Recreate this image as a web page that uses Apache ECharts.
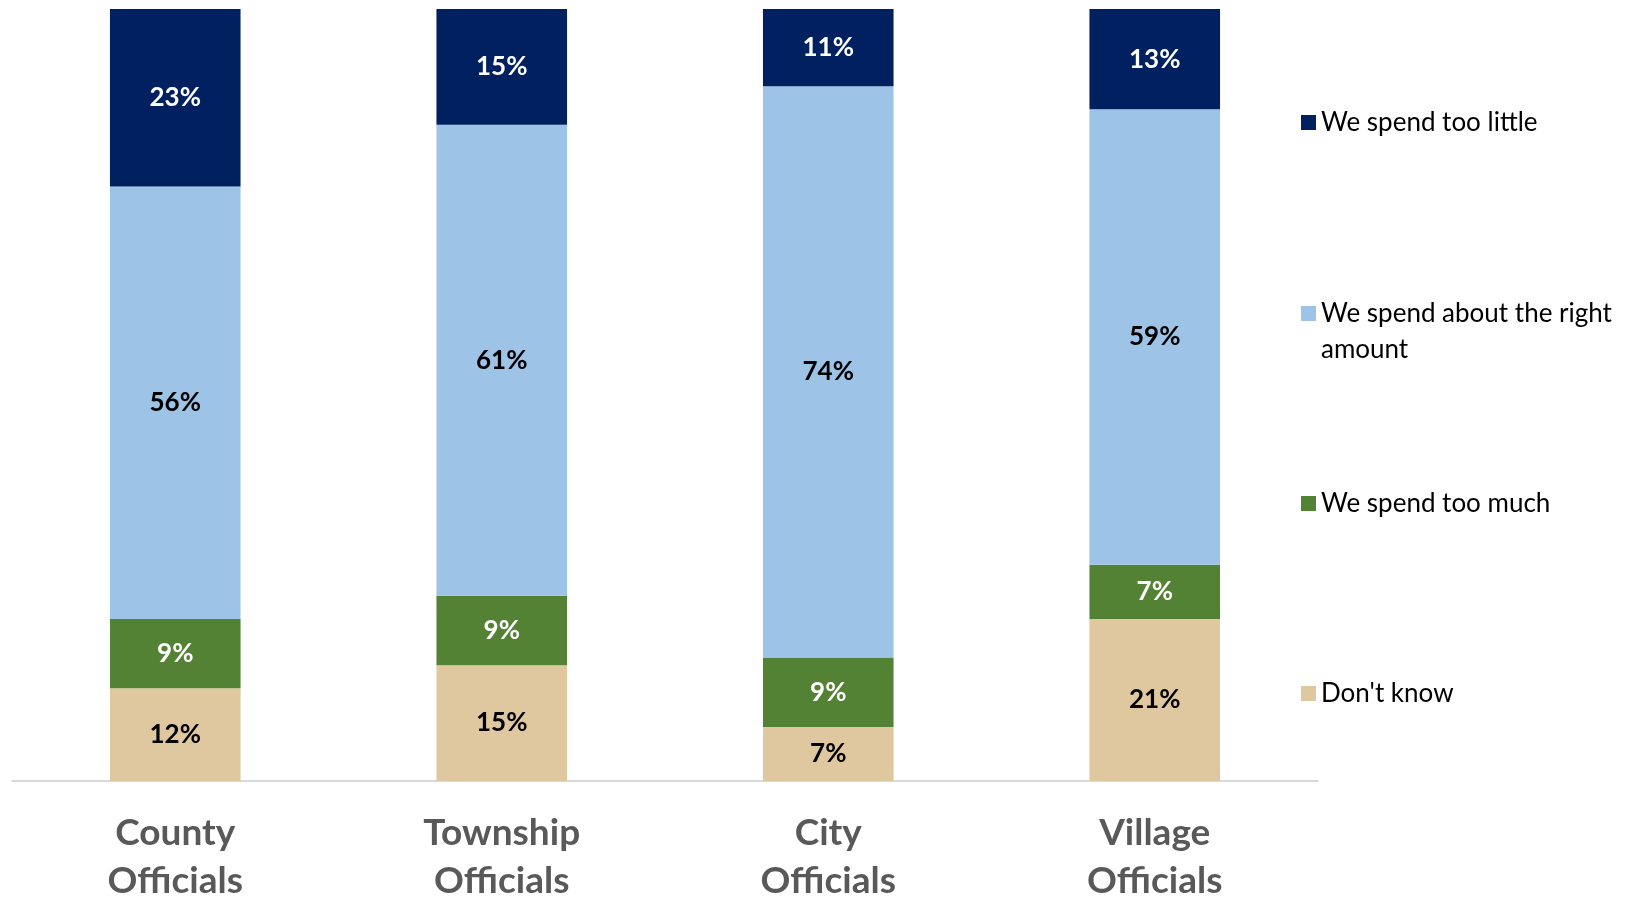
<!DOCTYPE html>
<html>
<head>
<meta charset="utf-8">
<script src="https://cdn.jsdelivr.net/npm/echarts@6/dist/echarts.min.js"></script>
<style>
  html, body { margin: 0; padding: 0; background: #fff; }
  #chart { width: 1633px; height: 897px; }
</style>
</head>
<body>
<div id="chart"></div>
<script>
const categories = ['County\nOfficials', 'Township\nOfficials', 'City\nOfficials', 'Village\nOfficials']

const dontKnow = [12, 15, 7, 21]
const tooMuch = [9, 9, 9, 7]
const rightAmount = [56, 61, 74, 59]
const tooLittle = [23, 15, 11, 13]

const names = ["We spend too little", "We spend about the right amount", "We spend too much", "Don't know"]
const colors = ['#002060', '#9DC3E6', '#548235', '#DFC7A0']

const font = 'Lato, "Open Sans", sans-serif'

const chart = echarts.init(document.getElementById('chart'))

const makeSeries = (name, data, color, labelColor) => ({
    name: name,
    type: 'bar',
    stack: 'total',
    barWidth: '40%',
    data: data,
    itemStyle: { color: color },
    label: {
        show: true,
        position: 'inside',
        formatter: '{c}%',
        color: labelColor,
        fontFamily: font,
        fontWeight: 'bold',
        fontSize: 26
    }
})

// the long legend entry wraps; its second line is added as a graphic below
const legendTops = [105, 296, 486, 676]
const legends = names.map((n, i) => ({
    data: [n],
    left: 1301,
    top: legendTops[i],
    padding: 0,
    itemWidth: 15,
    itemHeight: 15,
    itemGap: 8,
    icon: 'rect',
    selectedMode: false,
    formatter: i === 1 ? 'We spend about the right' : '{name}',
    textStyle: {
        fontFamily: font,
        fontSize: 26,
        color: '#000',
        lineHeight: 35
    }
}))

const option = {
    animation: false,
    color: colors,
    legend: legends,
    graphic: [{
        type: 'text',
        left: 1321,
        top: 337,
        style: {
            text: 'amount',
            fontFamily: font,
            fontSize: 26,
            fill: '#000'
        }
    }],
    grid: {
        left: 12,
        right: 315,
        top: 9,
        bottom: 116,
        outerBoundsMode: 'none'
    },
    xAxis: {
        type: 'category',
        data: categories,
        axisLine: { lineStyle: { color: '#D9D9D9', width: 2 } },
        axisTick: { show: false },
        axisLabel: {
            margin: 28,
            fontFamily: font,
            fontWeight: 'bold',
            fontSize: 37,
            lineHeight: 48,
            color: '#595959'
        }
    },
    yAxis: {
        type: 'value',
        min: 0,
        max: 100,
        show: false
    },
    series: [
        makeSeries(names[3], dontKnow, colors[3], '#000'),
        makeSeries(names[2], tooMuch, colors[2], '#fff'),
        makeSeries(names[1], rightAmount, colors[1], '#000'),
        makeSeries(names[0], tooLittle, colors[0], '#fff')
    ]
}

chart.setOption(option)
</script>
</body>
</html>
